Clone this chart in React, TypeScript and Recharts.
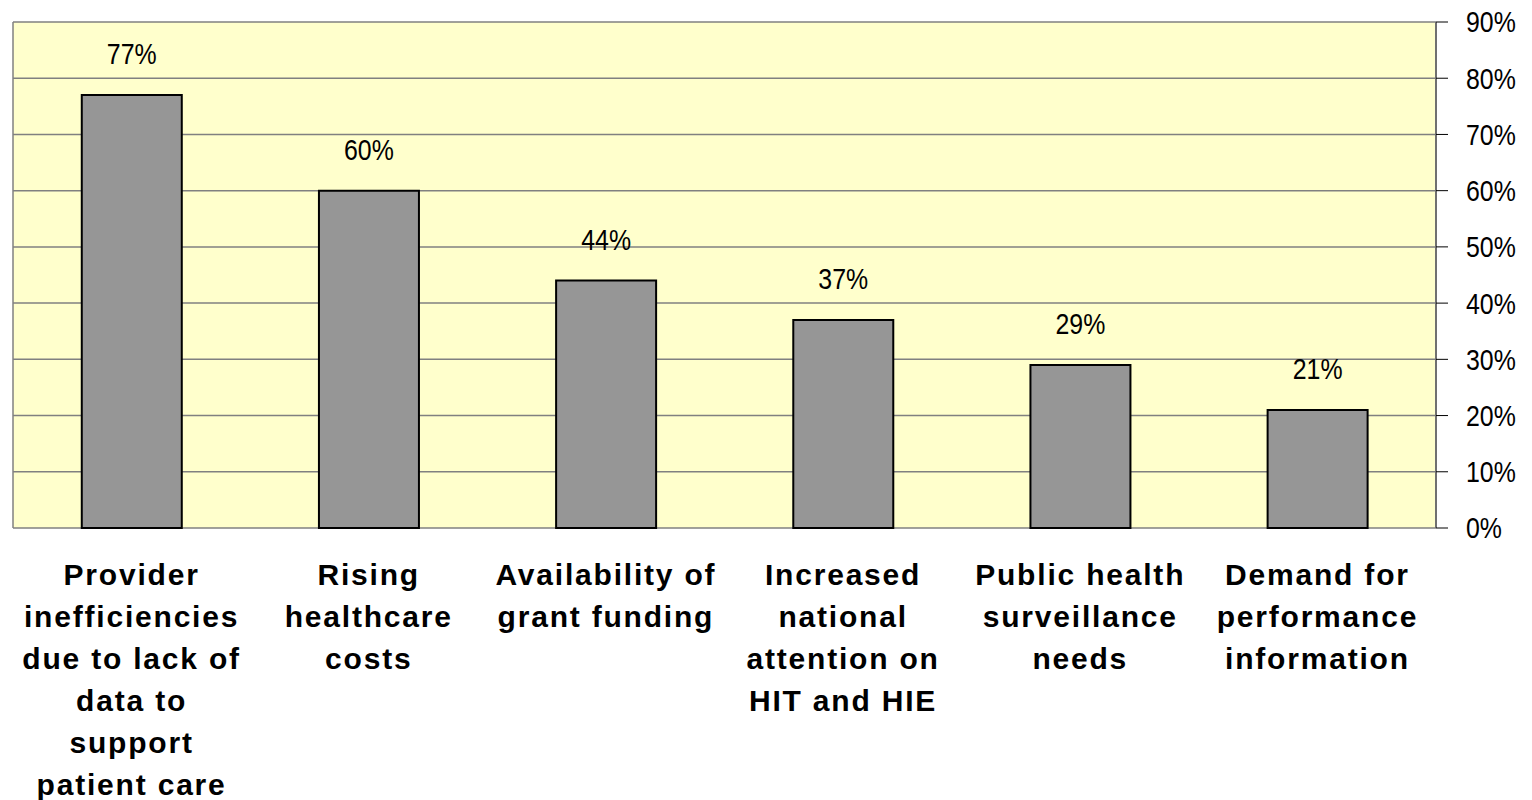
import { BarChart, Bar, XAxis, YAxis, CartesianGrid, LabelList } from "recharts"

const categories = [
  "Provider inefficiencies due to lack of data to support patient care",
  "Rising healthcare costs",
  "Availability of grant funding",
  "Increased national attention on HIT and HIE",
  "Public health surveillance needs",
  "Demand for performance information",
]

// how each category label wraps in the reference
const categoryLines = [
  ["Provider", "inefficiencies", "due to lack of", "data to", "support", "patient care"],
  ["Rising", "healthcare", "costs"],
  ["Availability of", "grant funding"],
  ["Increased", "national", "attention on", "HIT and HIE"],
  ["Public health", "surveillance", "needs"],
  ["Demand for", "performance", "information"],
]

const values = [77, 60, 44, 37, 29, 21]

const yTicks = [0, 10, 20, 30, 40, 50, 60, 70, 80, 90]
const edgeTicks = [0, 1, 2, 3, 4, 5, 6]

const data = categories.map((name, i) => ({ name, idx: i, value: values[i] }))

const SANS = "'Liberation Sans', Arial, sans-serif"

// no Arial Narrow offline, so squeeze Liberation Sans horizontally
function NarrowText({ x, y, anchor, children }: any) {
  return (
    <text
      x={x}
      y={y}
      textAnchor={anchor}
      fontFamily={SANS}
      fontSize={30}
      fill="#000"
      transform={`translate(${x},${y}) scale(0.83,1) translate(${-x},${-y})`}
    >
      {children}
    </text>
  )
}

function CategoryTick(props: any) {
  const { x, y, index } = props
  const lines = categoryLines[index] ?? []
  return (
    <g>
      {lines.map((line, i) => (
        <text
          key={i}
          x={x}
          y={y + 49 + i * 42}
          textAnchor="middle"
          fontFamily={SANS}
          fontWeight="bold"
          fontSize={30}
          letterSpacing={1.8}
          fill="#000"
        >
          {line}
        </text>
      ))}
    </g>
  )
}

function PercentTick(props: any) {
  const { x, y, payload } = props
  return (
    <NarrowText x={x} y={y + 10.5} anchor="start">
      {`${payload.value}%`}
    </NarrowText>
  )
}

function ValueLabel(props: any) {
  const { x, y, width, value } = props
  return (
    <NarrowText x={x + width / 2} y={y - 31} anchor="middle">
      {`${value}%`}
    </NarrowText>
  )
}

export default function App() {
  return (
    <div style={{ position: "absolute", left: 0, top: 0, background: "#fff" }}>
      <BarChart
        width={1532}
        height={800}
        data={data}
        margin={{ top: 22, right: 0, bottom: 0, left: 13 }}
        barCategoryGap="29%"
      >
        <CartesianGrid
          vertical={true}
          horizontal={true}
          fill="#FFFFCC"
          stroke="#808080"
          strokeWidth={1.5}
          verticalCoordinatesGenerator={({ offset }: any) => [offset.left]}
        />
        <XAxis
          xAxisId="edge"
          type="number"
          domain={[0, 6]}
          ticks={edgeTicks}
          tick={false}
          tickSize={10}
          height={0}
          stroke="#808080"
          tickLine={{ stroke: "#000" }}
          axisLine={{ stroke: "#808080", strokeWidth: 2 }}
        />
        <XAxis
          xAxisId="cat"
          dataKey="name"
          height={272}
          axisLine={false}
          tickLine={false}
          interval={0}
          tick={<CategoryTick />}
        />
        <YAxis
          orientation="right"
          width={96}
          domain={[0, 90]}
          ticks={yTicks}
          tickSize={12}
          tickMargin={18}
          axisLine={{ stroke: "#707070", strokeWidth: 2 }}
          tickLine={{ stroke: "#000" }}
          tick={<PercentTick />}
        />
        <Bar
          xAxisId="cat"
          dataKey="value"
          fill="#969696"
          stroke="#000"
          strokeWidth={2}
          isAnimationActive={false}
        >
          <LabelList dataKey="value" content={<ValueLabel />} />
        </Bar>
      </BarChart>
    </div>
  )
}
